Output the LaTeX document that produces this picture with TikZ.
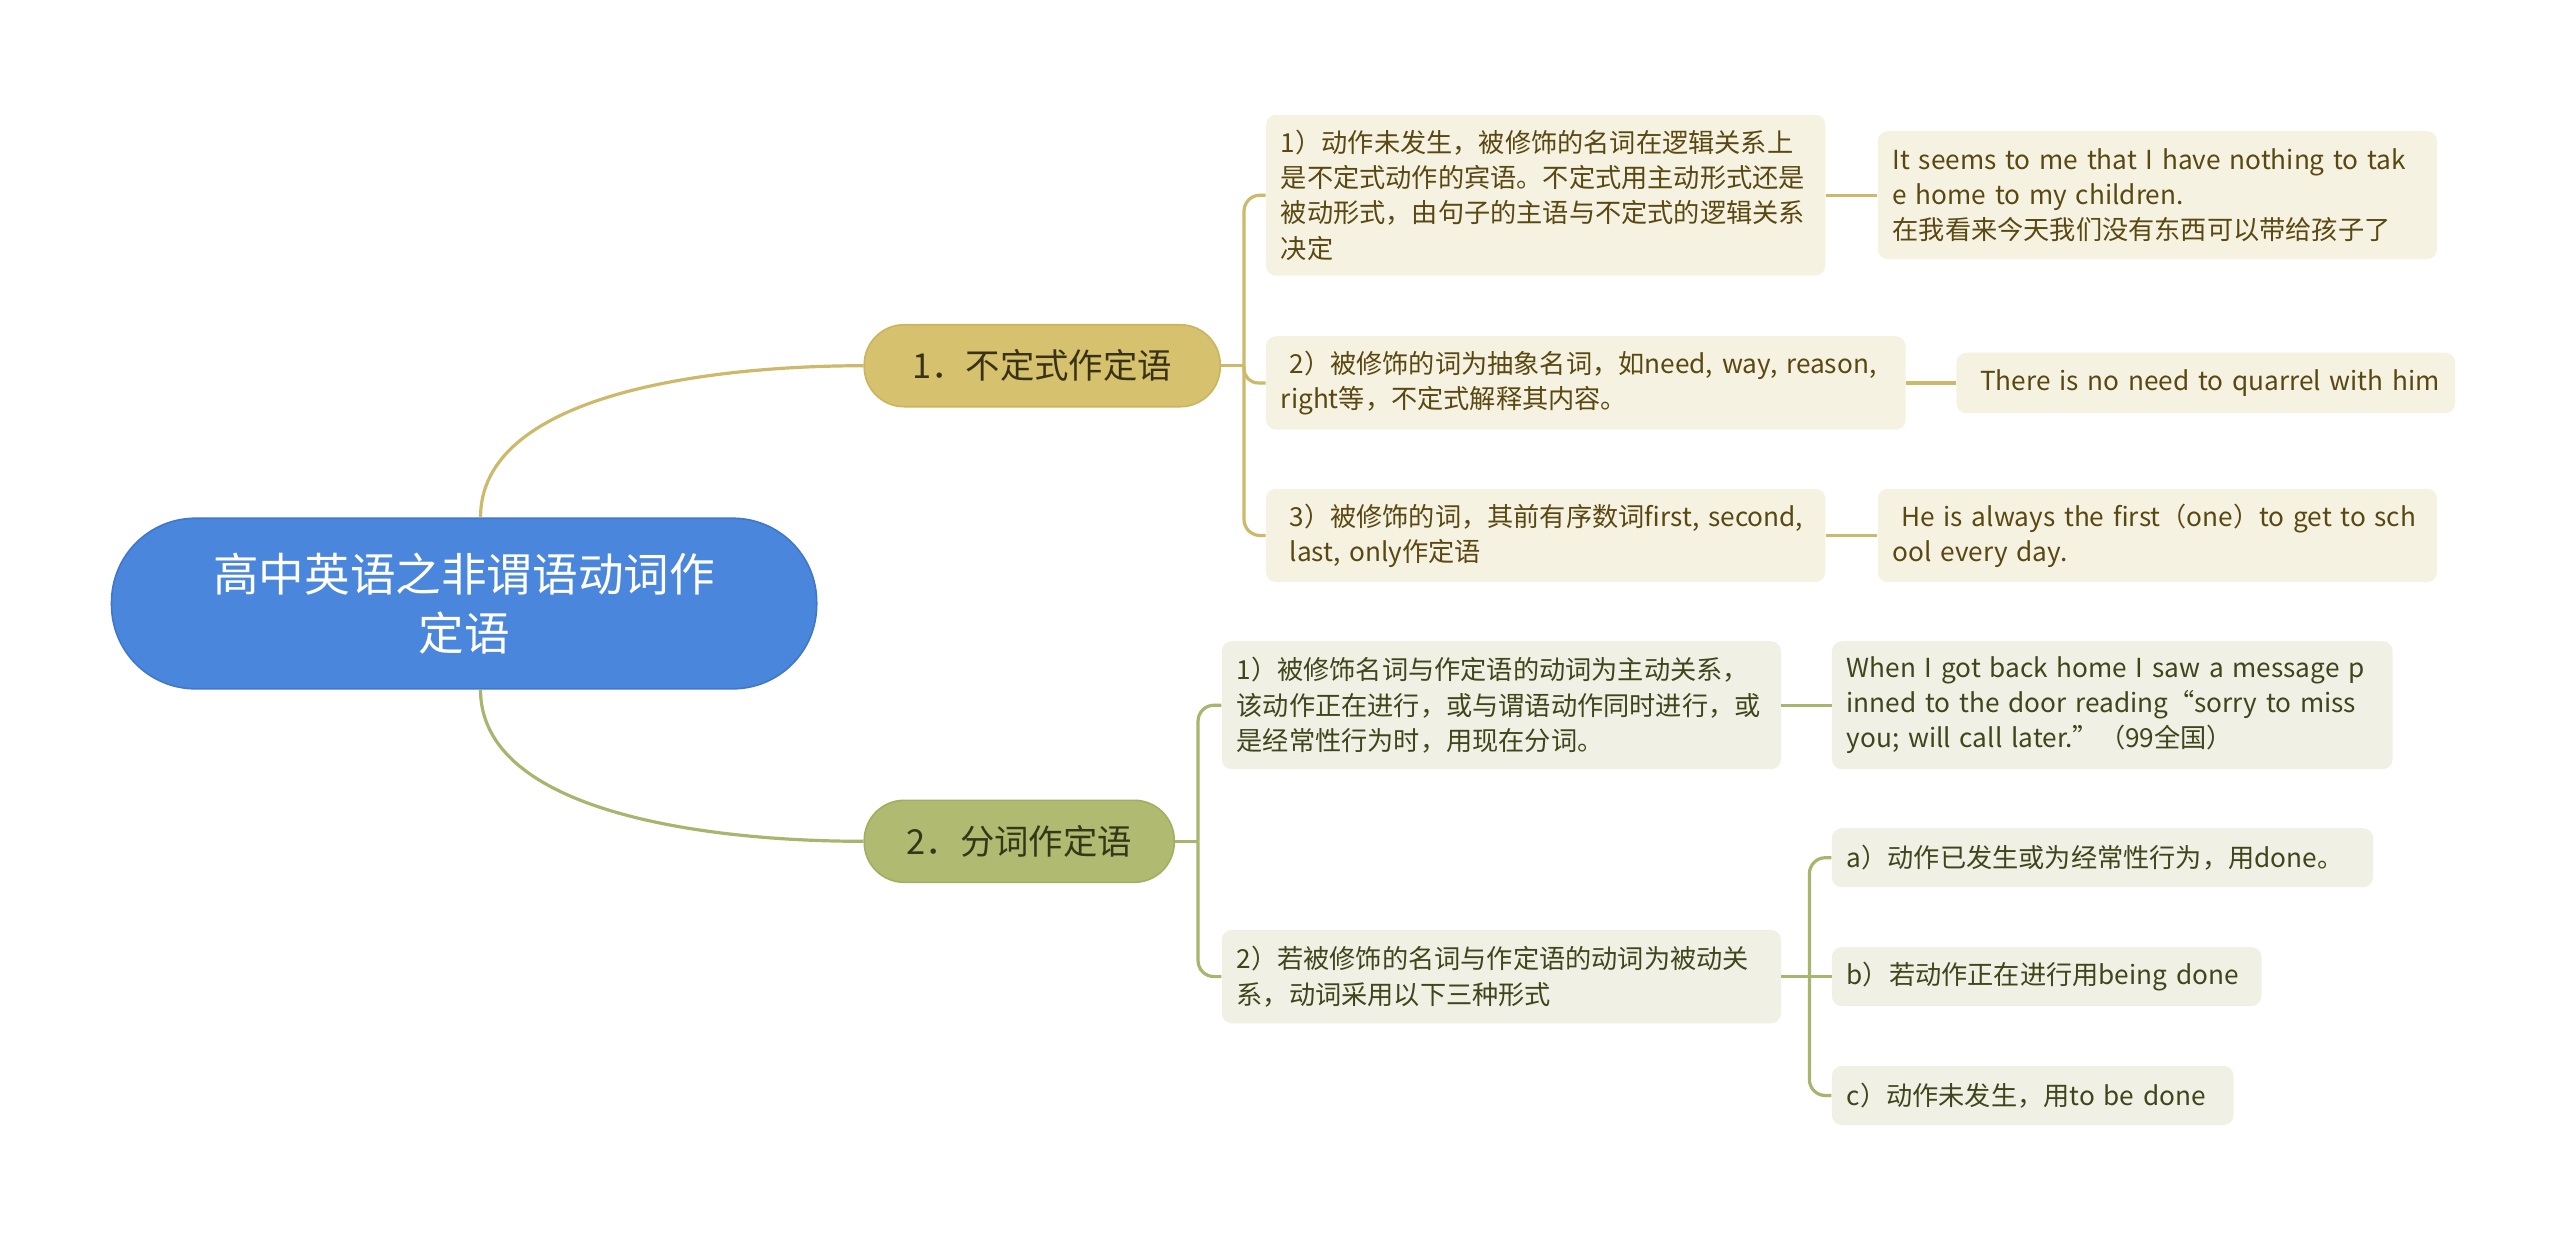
\documentclass[tikz,border=0pt]{standalone}
\usepackage{fontspec}
\setmainfont{Noto Sans CJK SC}
\usetikzlibrary{calc}
\definecolor{goldline}{HTML}{CDB96C}
\definecolor{oliveline}{HTML}{A9B46E}
\definecolor{goldbox}{HTML}{F6F2E1}
\definecolor{olivebox}{HTML}{F0F1E4}
\definecolor{goldtext}{HTML}{5A4812}
\definecolor{olivetext}{HTML}{40461B}
\definecolor{bonefill}{HTML}{D6C16F}
\definecolor{boneline}{HTML}{CBB45B}
\definecolor{btwofill}{HTML}{B0BA70}
\definecolor{btwoline}{HTML}{A3AE62}
\definecolor{rootfill}{HTML}{4A86DC}
\definecolor{rootline}{HTML}{3F77CC}
\definecolor{bonetext}{HTML}{3A3214}
\definecolor{btwotext}{HTML}{33381A}
\newcommand\oneline[1]{\mbox{#1}}
\begin{document}
\begin{tikzpicture}[x=0.82pt,y=-0.82pt,
  gline/.style={draw=goldline, line width=1.6pt},
  oline/.style={draw=oliveline, line width=1.6pt},
  gbox/.style={fill=goldbox, text=goldtext, rounded corners=5pt, inner xsep=7.4pt, inner ysep=0pt, align=left, font=\fontsize{13.1pt}{17.6pt}\selectfont},
  obox/.style={gbox, fill=olivebox, text=olivetext},
  rootbox/.style={fill=rootfill, draw=rootline, line width=0.8pt, text=white, align=center, minimum width=352.6pt, minimum height=85.3pt, rounded corners=42pt, font=\fontsize{22.8pt}{29.5pt}\selectfont},
  branch/.style={line width=0.8pt, align=center, minimum height=41pt, rounded corners=20pt, font=\fontsize{17.2pt}{20pt}\selectfont},
]
\useasboundingbox (0,0) rectangle (1561,753);

% root and branches
\node[rootbox] (root) at (283,368) {高中英语之非谓语动词作\\定语};
\node[branch, fill=bonefill, draw=boneline, text=bonetext, minimum width=178pt] (B1) at (635.5,223) {1．不定式作定语};
\node[branch, fill=btwofill, draw=btwoline, text=btwotext, minimum width=155pt] (B2) at (621.5,513) {2．分词作定语};

% branch 1 children
\node[gbox, text width=264.8pt, minimum height=80.4pt] (c1) at (942.5,119) {\oneline{1）动作未发生，被修饰的名词在逻辑关系上}\\\oneline{是不定式动作的宾语。不定式用主动形式还是}\\\oneline{被动形式，由句子的主语与不定式的逻辑关系}\\\oneline{决定}};
\node[gbox, text width=305pt, minimum height=46.7pt] (c2) at (967,233.5) {\oneline{ 2）被修饰的词为抽象名词，如need, way, reason,}\\\oneline{right等，不定式解释其内容。}};
\node[gbox, text width=264.8pt, minimum height=46.7pt] (c3) at (942.5,326.5) {\oneline{ 3）被修饰的词，其前有序数词first, second,}\\\oneline{ last, only作定语}};

\node[gbox, text width=264.8pt, minimum height=64pt] (L1) at (1315.5,119) {\oneline{It seems to me that I have nothing to tak}\\\oneline{e home to my children.}\\\oneline{在我看来今天我们没有东西可以带给孩子了}};
\node[gbox, text width=234.5pt, minimum height=30.3pt] (L2) at (1345,233.5) {\oneline{ There is no need to quarrel with him}};
\node[gbox, text width=264.8pt, minimum height=46.7pt] (L3) at (1315.5,326.5) {\oneline{ He is always the first（one）to get to sch}\\\oneline{ool every day.}};

% branch 2 children
\node[obox, text width=264.8pt, minimum height=64pt] (d1) at (915.5,430) {\oneline{1）被修饰名词与作定语的动词为主动关系，}\\\oneline{该动作正在进行，或与谓语动作同时进行，或}\\\oneline{是经常性行为时，用现在分词。}};
\node[obox, text width=265.6pt, minimum height=64pt] (e1) at (1288,430) {\oneline{When I got back home I saw a message p}\\\oneline{inned to the door reading“sorry to miss}\\\oneline{you; will call later.”（99全国）}};
\node[obox, text width=264.8pt, minimum height=46.7pt] (d2) at (915.5,595.5) {\oneline{2）若被修饰的名词与作定语的动词为被动关}\\\oneline{系，动词采用以下三种形式}};
\node[obox, text width=255.8pt, minimum height=29.5pt] (fa) at (1282,523) {\oneline{a）动作已发生或为经常性行为，用done。}};
\node[obox, text width=200pt, minimum height=29.5pt] (fb) at (1248,595.5) {\oneline{b）若动作正在进行用being done}};
\node[obox, text width=186.1pt, minimum height=29.5pt] (fc) at (1239.5,668) {\oneline{c）动作未发生，用to be done}};

% connectors root -> branches
\draw[gline] ([xshift=8.2pt]root.north) .. controls +(0,-75) and +(-95,0) .. (B1.west);
\draw[oline] ([xshift=8.2pt]root.south) .. controls +(0,75) and +(-95,0) .. (B2.west);

% branch 1 bracket
\coordinate (j1) at ([xshift=11.5pt]B1.east);
\draw[gline] (B1.east) -- (j1);
\draw[gline, rounded corners=8pt] (j1) |- (c1.west);
\draw[gline, rounded corners=7pt] (j1) |- (c2.west);
\draw[gline, rounded corners=8pt] (j1) |- (c3.west);
\draw[gline] (c1.east) -- (L1.west);
\draw[gline] (c2.east) -- (L2.west);
\draw[gline] (c3.east) -- (L3.west);

% branch 2 bracket
\coordinate (j2) at ([xshift=11.5pt]B2.east);
\draw[oline] (B2.east) -- (j2);
\draw[oline, rounded corners=8pt] (j2) |- (d1.west);
\draw[oline, rounded corners=8pt] (j2) |- (d2.west);
\draw[oline] (d1.east) -- (e1.west);

\coordinate (j3) at ([xshift=14pt]d2.east);
\draw[oline] (d2.east) -- (j3);
\draw[oline, rounded corners=8pt] (j3) |- (fa.west);
\draw[oline] (j3) -- (fb.west);
\draw[oline, rounded corners=8pt] (j3) |- (fc.west);
\end{tikzpicture}
\end{document}
